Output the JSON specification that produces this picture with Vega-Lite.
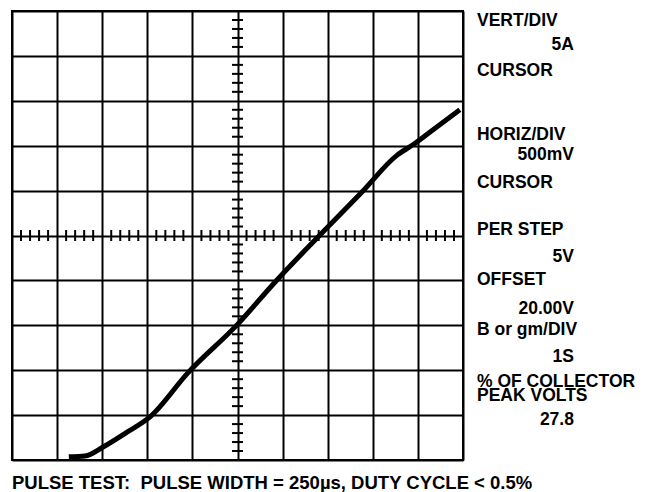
{
  "$schema": "https://vega.github.io/schema/vega-lite/v6.json",
  "width": 451,
  "height": 449,
  "autosize": {"type": "none"},
  "padding": {"left": 12, "top": 11, "right": 183, "bottom": 32},
  "background": "white",
  "config": {
    "view": {"stroke": "black", "strokeWidth": 2},
    "text": {"font": "Liberation Sans", "fontWeight": "bold", "fontSize": 17.5, "color": "black", "baseline": "alphabetic"}
  },
  "datasets": {
    "curve": [
      {"h": 1.26, "v": 0.07},
      {"h": 1.62, "v": 0.09},
      {"h": 2.02, "v": 0.29},
      {"h": 2.55, "v": 0.62},
      {"h": 3.06, "v": 0.96},
      {"h": 3.90, "v": 1.94},
      {"h": 4.99, "v": 3.01},
      {"h": 5.83, "v": 3.96},
      {"h": 6.72, "v": 4.90},
      {"h": 7.76, "v": 5.97},
      {"h": 8.54, "v": 6.79},
      {"h": 8.89, "v": 7.02},
      {"h": 9.33, "v": 7.35},
      {"h": 9.93, "v": 7.80}
    ],
    "minor": [
      {"m": 0.2}, {"m": 0.4}, {"m": 0.6}, {"m": 0.8},
      {"m": 1.2}, {"m": 1.4}, {"m": 1.6}, {"m": 1.8},
      {"m": 2.2}, {"m": 2.4}, {"m": 2.6}, {"m": 2.8},
      {"m": 3.2}, {"m": 3.4}, {"m": 3.6}, {"m": 3.8},
      {"m": 4.2}, {"m": 4.4}, {"m": 4.6}, {"m": 4.8},
      {"m": 5.2}, {"m": 5.4}, {"m": 5.6}, {"m": 5.8},
      {"m": 6.2}, {"m": 6.4}, {"m": 6.6}, {"m": 6.8},
      {"m": 7.2}, {"m": 7.4}, {"m": 7.6}, {"m": 7.8},
      {"m": 8.2}, {"m": 8.4}, {"m": 8.6}, {"m": 8.8},
      {"m": 9.2}, {"m": 9.4}, {"m": 9.6}, {"m": 9.8}
    ]
  },
  "layer": [
    {
      "data": {"name": "curve"},
      "mark": {"type": "line", "color": "black", "strokeWidth": 5, "interpolate": "monotone", "strokeCap": "butt", "clip": true},
      "encoding": {
        "x": {"field": "h", "type": "quantitative", "scale": {"domain": [0, 10], "nice": false, "zero": false},
          "axis": {"values": [0,1,2,3,4,5,6,7,8,9,10], "grid": true, "gridColor": "black", "gridWidth": 2, "gridOpacity": 1, "labels": false, "ticks": false, "domain": false, "title": null}},
        "y": {"field": "v", "type": "quantitative", "scale": {"domain": [0, 10], "nice": false, "zero": false},
          "axis": {"values": [0,1,2,3,4,5,6,7,8,9,10], "grid": true, "gridColor": "black", "gridWidth": 2, "gridOpacity": 1, "labels": false, "ticks": false, "domain": false, "title": null}}
      }
    },
    {
      "data": {"name": "minor"},
      "mark": {"type": "tick", "orient": "horizontal", "color": "black", "size": 11, "thickness": 2, "opacity": 1},
      "encoding": {
        "y": {"field": "m", "type": "quantitative"},
        "x": {"datum": 5, "type": "quantitative"}
      }
    },
    {
      "data": {"name": "minor"},
      "mark": {"type": "tick", "orient": "vertical", "color": "black", "size": 11, "thickness": 2, "opacity": 1},
      "encoding": {
        "x": {"field": "m", "type": "quantitative"},
        "y": {"datum": 5, "type": "quantitative"}
      }
    },
    {"data": {"values": [{"label": "VERT/DIV"}]}, "mark": {"type": "text", "align": "left"}, "encoding": {"text": {"field": "label"}, "x": {"datum": 10.31}, "y": {"datum": 9.666}}},
    {"data": {"values": [{"label": "5A"}]}, "mark": {"type": "text", "align": "right"}, "encoding": {"text": {"field": "label"}, "x": {"datum": 12.46}, "y": {"datum": 9.131}}},
    {"data": {"values": [{"label": "CURSOR"}]}, "mark": {"type": "text", "align": "left"}, "encoding": {"text": {"field": "label"}, "x": {"datum": 10.31}, "y": {"datum": 8.552}}},
    {"data": {"values": [{"label": "HORIZ/DIV"}]}, "mark": {"type": "text", "align": "left"}, "encoding": {"text": {"field": "label"}, "x": {"datum": 10.31}, "y": {"datum": 7.127}}},
    {"data": {"values": [{"label": "500mV"}]}, "mark": {"type": "text", "align": "right"}, "encoding": {"text": {"field": "label"}, "x": {"datum": 12.46}, "y": {"datum": 6.682}}},
    {"data": {"values": [{"label": "CURSOR"}]}, "mark": {"type": "text", "align": "left"}, "encoding": {"text": {"field": "label"}, "x": {"datum": 10.31}, "y": {"datum": 6.058}}},
    {"data": {"values": [{"label": "PER STEP"}]}, "mark": {"type": "text", "align": "left"}, "encoding": {"text": {"field": "label"}, "x": {"datum": 10.31}, "y": {"datum": 5.011}}},
    {"data": {"values": [{"label": "5V"}]}, "mark": {"type": "text", "align": "right"}, "encoding": {"text": {"field": "label"}, "x": {"datum": 12.46}, "y": {"datum": 4.410}}},
    {"data": {"values": [{"label": "OFFSET"}]}, "mark": {"type": "text", "align": "left"}, "encoding": {"text": {"field": "label"}, "x": {"datum": 10.31}, "y": {"datum": 3.898}}},
    {"data": {"values": [{"label": "20.00V"}]}, "mark": {"type": "text", "align": "right"}, "encoding": {"text": {"field": "label"}, "x": {"datum": 12.46}, "y": {"datum": 3.252}}},
    {"data": {"values": [{"label": "B or gm/DIV"}]}, "mark": {"type": "text", "align": "left"}, "encoding": {"text": {"field": "label"}, "x": {"datum": 10.31}, "y": {"datum": 2.784}}},
    {"data": {"values": [{"label": "1S"}]}, "mark": {"type": "text", "align": "right"}, "encoding": {"text": {"field": "label"}, "x": {"datum": 12.46}, "y": {"datum": 2.183}}},
    {"data": {"values": [{"label": "% OF COLLECTOR\nPEAK VOLTS"}]}, "mark": {"type": "text", "align": "left", "lineBreak": "\n", "lineHeight": 14}, "encoding": {"text": {"field": "label"}, "x": {"datum": 10.31}, "y": {"datum": 1.626}}},
    {"data": {"values": [{"label": "27.8"}]}, "mark": {"type": "text", "align": "right"}, "encoding": {"text": {"field": "label"}, "x": {"datum": 12.46}, "y": {"datum": 0.780}}},
    {"data": {"values": [{"label": "PULSE TEST:\u00a0\u00a0PULSE WIDTH = 250µs, DUTY CYCLE < 0.5%"}]}, "mark": {"type": "text", "align": "left", "fontSize": 18.5}, "encoding": {"text": {"field": "label"}, "x": {"datum": 0}, "y": {"datum": -0.64}}}
  ]
}
